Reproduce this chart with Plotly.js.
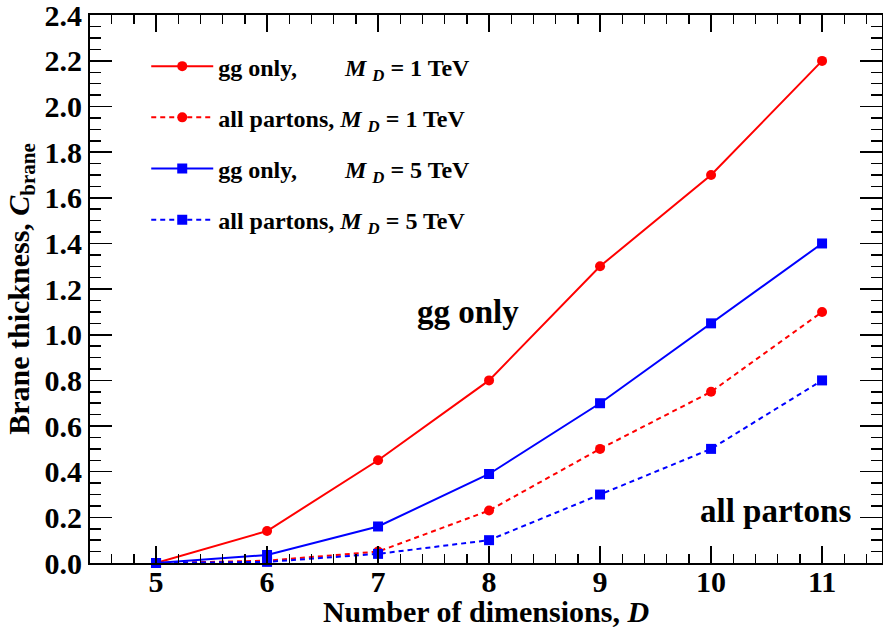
<!DOCTYPE html>
<html>
<head>
<meta charset="utf-8">
<script src="https://cdn.plot.ly/plotly-3.0.1.min.js"></script>
<style>html,body{margin:0;padding:0;background:#fff;}#chart{width:883px;height:628px;}</style>
</head>
<body>
<div id="chart"></div>
<script>
const dims = [5, 6, 7, 8, 9, 10, 11];
const ggOnly1TeV = [0.0, 0.14, 0.45, 0.80, 1.30, 1.70, 2.20];
const allPartons1TeV = [0.0, 0.01, 0.05, 0.23, 0.50, 0.75, 1.10];
const ggOnly5TeV = [0.0, 0.035, 0.16, 0.39, 0.70, 1.05, 1.40];
const allPartons5TeV = [0.0, 0.005, 0.04, 0.10, 0.30, 0.50, 0.80];
const yTickVals = [0.0, 0.2, 0.4, 0.6, 0.8, 1.0, 1.2, 1.4, 1.6, 1.8, 2.0, 2.2, 2.4];
const yTickText = ['0.0', '0.2', '0.4', '0.6', '0.8', '1.0', '1.2', '1.4', '1.6', '1.8', '2.0', '2.2', '2.4'];
const seriesNames = [
  'gg only,&nbsp;&nbsp;&nbsp;&nbsp;&nbsp;&nbsp;&nbsp;&nbsp;<i>M</i>&nbsp;<sub><i>D</i></sub> = 1 TeV',
  'all partons,&nbsp;<i>M</i>&nbsp;<sub><i>D</i></sub> = 1 TeV',
  'gg only,&nbsp;&nbsp;&nbsp;&nbsp;&nbsp;&nbsp;&nbsp;&nbsp;<i>M</i>&nbsp;<sub><i>D</i></sub> = 5 TeV',
  'all partons,&nbsp;<i>M</i>&nbsp;<sub><i>D</i></sub> = 5 TeV'
];
const xTitle = 'Number of dimensions, <i>D</i>';
const yTitle = 'Brane thickness, <i>C</i><sub>brane</sub>';

const FONT = 'Liberation Serif';
const RED = '#ff0000', BLUE = '#0000ff';

function tr(y, name, color, dash, symbol, grp) {
  return {
    x: dims, y: y, name: name, type: 'scatter', mode: 'lines+markers',
    legendgroup: grp,
    line: {color: color, width: 2, dash: dash},
    marker: {color: color, size: 10, symbol: symbol},
    cliponaxis: false
  };
}

const data = [
  tr(ggOnly1TeV, seriesNames[0], RED, 'solid', 'circle', 'a'),
  tr(allPartons1TeV, seriesNames[1], RED, '5px,4px', 'circle', 'b'),
  tr(ggOnly5TeV, seriesNames[2], BLUE, 'solid', 'square', 'c'),
  tr(allPartons5TeV, seriesNames[3], BLUE, '5px,4px', 'square', 'd')
];

const axisCommon = {
  showgrid: false, zeroline: false, showline: true, linecolor: '#000', linewidth: 2,
  mirror: 'allticks', ticks: 'inside', tickcolor: '#000', tickwidth: 1.5,
  ticklabeloverflow: 'allow',
  tickfont: {family: FONT, size: 30, color: '#000', weight: 'bold'}
};

const layout = {
  width: 883, height: 628,
  margin: {l: 90, r: 1, t: 15, b: 65},
  paper_bgcolor: '#fff', plot_bgcolor: '#fff',
  font: {family: FONT, color: '#000'},
  xaxis: Object.assign({}, axisCommon, {
    range: [4.405, 11.54], tick0: 5, dtick: 1, ticklen: 17, ticklabelstandoff: -9,
    minor: {dtick: 0.2, tick0: 5, ticklen: 9, ticks: 'inside', tickcolor: '#000', tickwidth: 1.5},
    title: {text: xTitle, font: {family: FONT, size: 30, color: '#000', weight: 'bold'}, standoff: 2}
  }),
  yaxis: Object.assign({}, axisCommon, {
    range: [0, 2.401], tickmode: 'array', tickvals: yTickVals, ticktext: yTickText, ticklen: 22,
    minor: {tickmode: 'linear', dtick: 0.05, tick0: 0, ticklen: 11, ticks: 'inside', tickcolor: '#000', tickwidth: 1.5},
    title: {text: yTitle, font: {family: FONT, size: 30, color: '#000', weight: 'bold'}, standoff: 6}
  }),
  showlegend: true,
  legend: {
    x: 0.071, y: 0.947, xanchor: 'left', yanchor: 'top',
    bgcolor: 'rgba(0,0,0,0)', borderwidth: 0,
    font: {family: FONT, size: 24, color: '#000', weight: 'bold'},
    traceorder: 'grouped', tracegroupgap: 17, itemwidth: 62
  },
  annotations: [
    {x: 7.81, y: 1.10, xref: 'x', yref: 'y', text: 'gg only', showarrow: false,
     font: {family: FONT, size: 33, color: '#000', weight: 'bold'}},
    {x: 10.58, y: 0.23, xref: 'x', yref: 'y', text: 'all partons', showarrow: false,
     font: {family: FONT, size: 33, color: '#000', weight: 'bold'}}
  ]
};

Plotly.newPlot('chart', data, layout, {displayModeBar: false, staticPlot: true});
</script>
</body>
</html>
